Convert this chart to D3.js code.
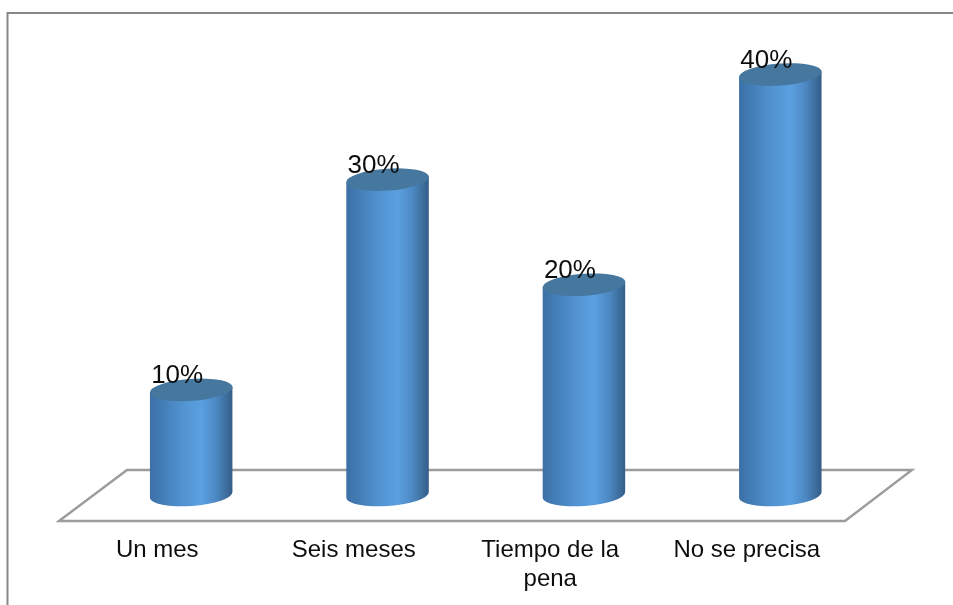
<!DOCTYPE html>
<html><head><meta charset="utf-8">
<script src="https://cdn.jsdelivr.net/npm/d3@7"></script>
<style>html,body{margin:0;padding:0;background:#fff}svg{display:block}text{font-family:"Liberation Sans",Arial,sans-serif;fill:#111}</style>
</head><body><svg id="c" width="953" height="605"></svg>
<script>
const categories = ["Un mes","Seis meses","Tiempo de la pena","No se precisa"];
const values = [0.10,0.30,0.20,0.40];
const svg=d3.select("#c");
const defs=svg.append("defs");
const grad=defs.append("linearGradient").attr("id","cyl").attr("x1",0).attr("x2",1).attr("y1",0).attr("y2",0);
[[0,"#3c70a6"],[0.15,"#437db6"],[0.38,"#5191cf"],[0.62,"#5ba0e0"],[0.8,"#4d89c4"],[0.92,"#3e6f9f"],[1,"#335e87"]]
 .forEach(([o,c])=>grad.append("stop").attr("offset",o).attr("stop-color",c));
const soft=defs.append("filter").attr("id","soft").attr("x","-5%").attr("y","-5%").attr("width","110%").attr("height","110%");
soft.append("feGaussianBlur").attr("stdDeviation",0.5);

// frame (open at the right and bottom)
svg.append("path").attr("d","M7.5,605V13H953").attr("fill","none").attr("stroke","#878787").attr("stroke-width",2);

const x=d3.scaleBand().domain(categories).range([93,878.5]);     // mid-depth of the floor
const xFront=d3.scaleBand().domain(categories).range([59,845]);  // front edge of the floor
const y=d3.scaleLinear().domain([0,0.4]).range([495,74.5]);

// floor
const floor=d3.path();
floor.moveTo(xFront.range()[0],521);floor.lineTo(127,470);floor.lineTo(912,470);floor.lineTo(xFront.range()[1],521);floor.closePath();
svg.append("path").attr("d",floor.toString()).attr("fill","#fff").attr("stroke","#9c9c9c").attr("stroke-width",2.4).attr("filter","url(#soft)");

const rx=x.bandwidth()*0.21, ry=11, tilt=-4;
const dy=rx*Math.sin(-tilt*Math.PI/180);
const g=svg.append("g").attr("filter","url(#soft)");
const bars=g.selectAll("g").data(categories.map((c,i)=>({c,v:values[i]}))).join("g");
bars.append("path").attr("fill","url(#cyl)").attr("d",d=>{
  const cx=x(d.c)+x.bandwidth()/2, yt=y(d.v), yb=y(0);
  return `M${cx-rx},${yt+dy}L${cx-rx},${yb+dy}A${rx},${ry} ${tilt} 0 0 ${cx+rx},${yb-dy}L${cx+rx},${yt-dy}Z`;
});
bars.append("ellipse").attr("rx",rx+0.3).attr("ry",ry).attr("fill","#44779f")
  .attr("transform",d=>`translate(${x(d.c)+x.bandwidth()/2},${y(d.v)}) rotate(${tilt})`);

// data labels
const labels=svg.append("g").attr("filter","url(#soft)");
labels.selectAll("text").data(categories.map((c,i)=>({c,v:values[i]}))).join("text")
  .attr("x",d=>x(d.c)+x.bandwidth()/2-14)
  .attr("y",d=>y(d.v)-6.5)
  .attr("text-anchor","middle").attr("font-size",26)
  .text(d=>d3.format(".0%")(d.v));

// category labels
const wrap={"Tiempo de la pena":["Tiempo de la","pena"]};
const cats=labels.selectAll("g.cat").data(categories).join("g").attr("class","cat");
cats.each(function(c){
  const lines=wrap[c]||[c];
  d3.select(this).selectAll("text").data(lines).join("text")
    .attr("x",xFront(c)+xFront.bandwidth()/2)
    .attr("y",(l,i)=>557+i*29)
    .attr("text-anchor","middle").attr("font-size",24)
    .text(l=>l);
});
</script></body></html>
